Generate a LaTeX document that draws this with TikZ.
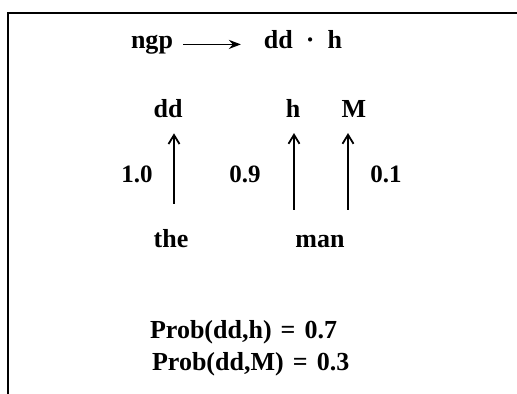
\documentclass[tikz,border=0pt]{standalone}
\usepackage{fontspec}
\setmainfont{Liberation Serif}
\usepackage{tikz}
\usetikzlibrary{arrows.meta,positioning}

\begin{document}
\begin{tikzpicture}[x=.5pt,y=-.5pt,font=\fontsize{13}{15}\selectfont\bfseries,
    >={Straight Barb[length=4.5pt,width=5.5pt,line width=.9pt]},
    every node/.style={anchor=base},
    prb/.style={font=\fontsize{12.5}{14}\selectfont\bfseries}]
        \useasboundingbox (0,0) rectangle (517,394);
        \draw[line width=1pt] (8,394)--(8,13)--(517,13);
        % rule
        \node (ngp) at (152,49) {ngp};
        \node (rhs) at (303,49) {dd\ \ \textperiodcentered\ \ h};
        \draw[-{Stealth[length=6pt,width=4.5pt]},line width=.9pt,shorten <=1.5pt,shorten >=8pt] (ngp.mid east)--(rhs.mid west);
        % tags and words
        \node (dd) at (168,118) {dd};
        \node (h) at (293,118) {h};
        \node (M) at (354,118) {M};
        \node (the) at (171,248) {the};
        \node (man) at (320,248) {man};
        \draw[->,line width=.9pt,shorten <=9.5pt,shorten >=4pt] (the.north -| 174,0) -- (dd.south -| 174,0);
        \draw[->,line width=.9pt,shorten <=9.5pt,shorten >=4pt] (man.north -| 294,0) -- (h.south -| 294,0);
        \draw[->,line width=.9pt,shorten <=9.5pt,shorten >=4pt] (man.north -| 348,0) -- (M.south -| 348,0);
        \node[prb] (w1) at (137,183) {1.0};
        \node[prb] (w2) at (245,183) {0.9};
        \node[prb] (w3) at (386,183) {0.1};
        % probabilities
        \node[anchor=base west] (p1) at (143,338) {Prob(dd,h)\hspace{.35em}=\hspace{.35em}0.7};
        \node[anchor=base west] (p2) at (145,370) {Prob(dd,M)\hspace{.35em}=\hspace{.35em}0.3};
      \end{tikzpicture}
\end{document}
